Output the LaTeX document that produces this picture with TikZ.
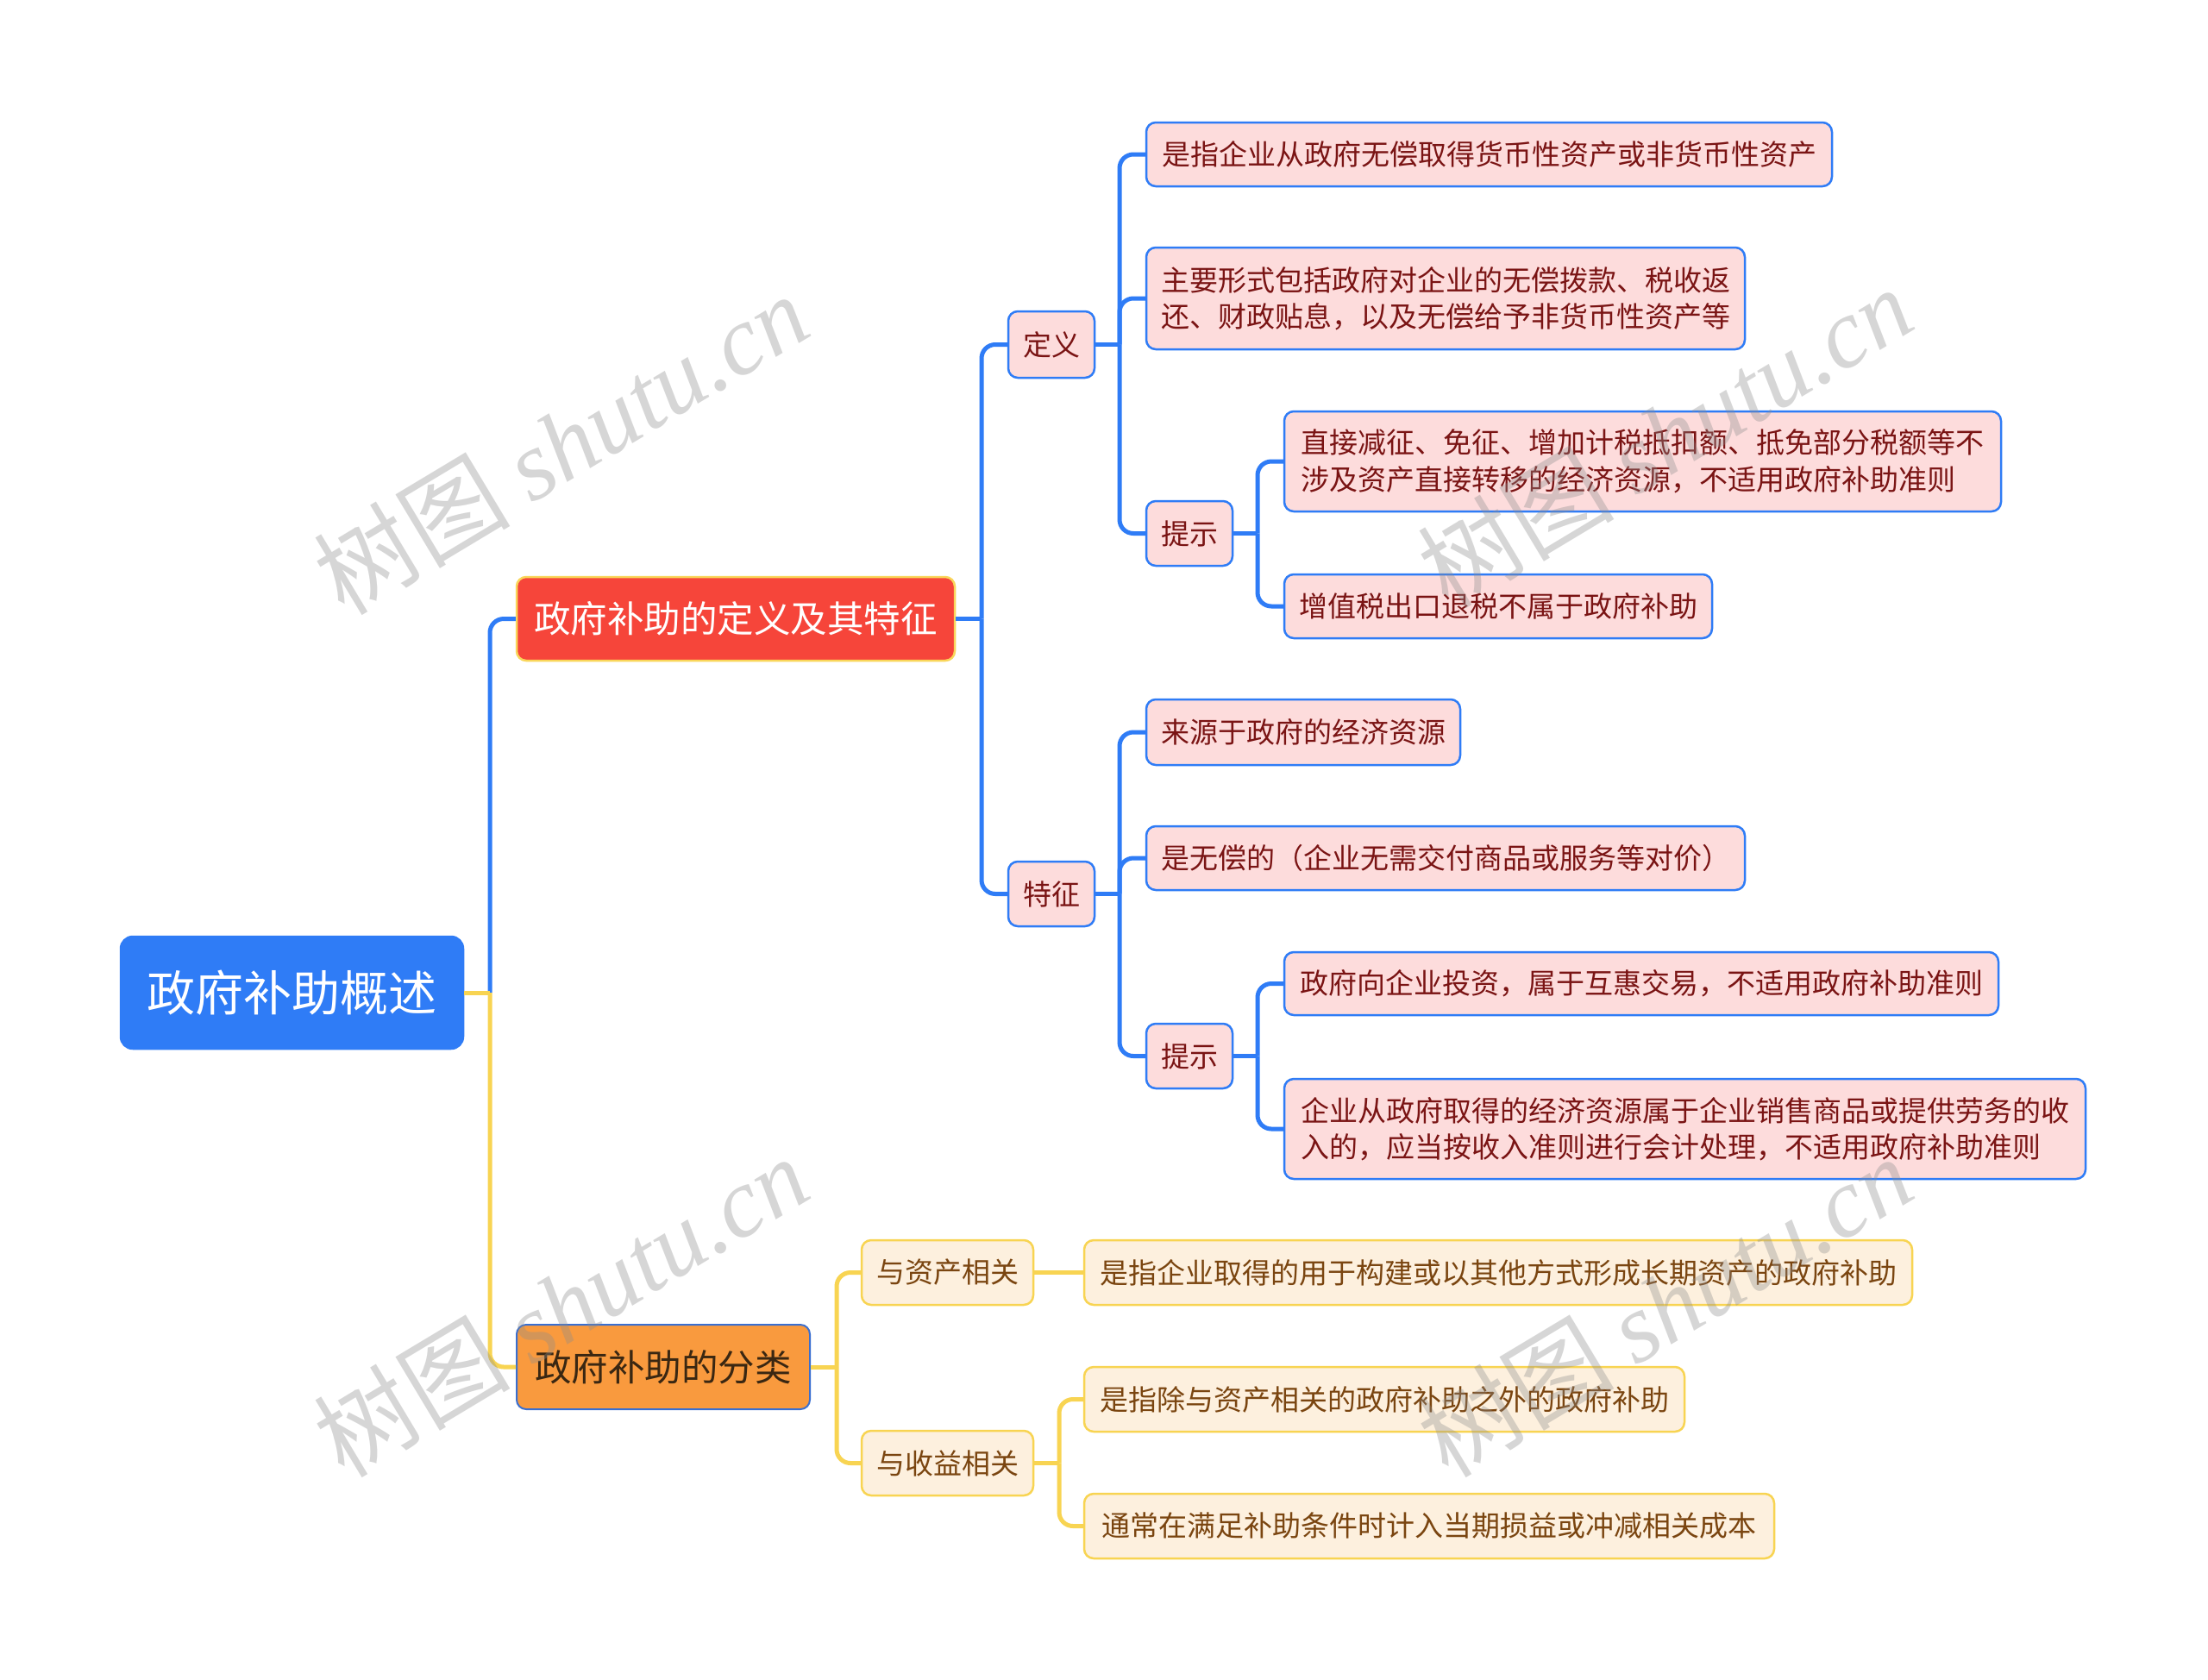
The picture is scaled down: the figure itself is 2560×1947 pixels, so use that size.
\documentclass[tikz,border=0pt]{standalone}
\usepackage{fontspec}
\setmainfont{Noto Sans CJK SC}
\newfontfamily\wmlat{Liberation Serif}
\definecolor{cblue}{HTML}{2F7CF6}
\definecolor{cpink}{HTML}{FDDCDC}
\definecolor{cmaroon}{HTML}{7A1414}
\definecolor{cred}{HTML}{F6453A}
\definecolor{credb}{HTML}{F9D65A}
\definecolor{corange}{HTML}{F99A3E}
\definecolor{corangeb}{HTML}{3A6FD0}
\definecolor{cdark}{HTML}{3A2712}
\definecolor{cyel}{HTML}{F8D452}
\definecolor{ccream}{HTML}{FDF0DE}
\definecolor{cbrown}{HTML}{7A4510}
\begin{document}
\begin{tikzpicture}[x=1pt,y=-1pt,
  base/.style={rounded corners=11pt, line width=2.5pt, inner xsep=12pt, inner ysep=0pt, align=left, anchor=center},
  leafb/.style={base, draw=cblue, fill=cpink, text=cmaroon, font=\fontsize{33}{42.5}\selectfont},
  leafy/.style={base, draw=cyel, fill=ccream, text=cbrown, font=\fontsize{33}{42.5}\selectfont},
  sz/.style 2 args={minimum width=#1, minimum height=#2},
  bl/.style={draw=cblue, line width=5pt},
  yl/.style={draw=cyel, line width=5pt},
  rc/.style={rounded corners=16pt},
  wm/.style={text=black!45, opacity=0.35, rotate=31, font=\fontsize{114}{120}\selectfont, anchor=center}
]
\useasboundingbox (0,0) rectangle (2560,1947);
\fill[white] (0,0) rectangle (2560,1947);

% root
\node[base, draw=cblue, fill=cblue, text=white, sz={397}{130}, rounded corners=14pt, font=\fontsize{56}{60}\selectfont] (root) at (338.5,1151) {政府补助概述};

% level 1
\node[base, draw=credb, fill=cred, text=white, sz={508}{97}, line width=2.5pt, font=\fontsize{42.5}{46}\selectfont] (A) at (853,717.5) {政府补助的定义及其特征};
\node[base, draw=corangeb, fill=corange, text=cdark, sz={340}{98}, line width=2pt, font=\fontsize{42.5}{46}\selectfont] (B) at (769,1585) {政府补助的分类};

% level 2 (blue)
\node[leafb, sz={100}{77}] (def) at (1219,399.5) {定义};
\node[leafb, sz={100}{75}] (feat) at (1219,1036.5) {特征};

\node[leafb, sz={795}{74}] (d1) at (1726.5,179) {是指企业从政府无偿取得货币性资产或非货币性资产};
\node[leafb, sz={694}{118}] (d2) at (1676,346) {主要形式包括政府对企业的无偿拨款、税收返\\还、财政贴息，以及无偿给予非货币性资产等};
\node[leafb, sz={100}{75}] (tip1) at (1379,618.5) {提示};
\node[leafb, sz={831}{116}] (t1a) at (1904.5,535) {直接减征、免征、增加计税抵扣额、抵免部分税额等不\\涉及资产直接转移的经济资源，不适用政府补助准则};
\node[leafb, sz={496}{74}] (t1b) at (1737,703) {增值税出口退税不属于政府补助};

\node[leafb, sz={364}{76}] (f1) at (1511,849) {来源于政府的经济资源};
\node[leafb, sz={694}{74}] (f2) at (1676,995) {是无偿的（企业无需交付商品或服务等对价）};
\node[leafb, sz={100}{75}] (tip2) at (1379,1224.5) {提示};
\node[leafb, sz={828}{73}] (t2a) at (1903,1140.5) {政府向企业投资，属于互惠交易，不适用政府补助准则};
\node[leafb, sz={929}{116}] (t2b) at (1953.5,1309) {企业从政府取得的经济资源属于企业销售商品或提供劳务的收\\入的，应当按收入准则进行会计处理，不适用政府补助准则};

% level 2 (yellow)
\node[leafy, sz={199}{75}] (c1) at (1098.5,1475.5) {与资产相关};
\node[leafy, sz={960}{75}] (c1a) at (1737,1475.5) {是指企业取得的用于构建或以其他方式形成长期资产的政府补助};
\node[leafy, sz={199}{75}] (c2) at (1098.5,1696.5) {与收益相关};
\node[leafy, sz={696}{75}] (c2a) at (1605,1622.5) {是指除与资产相关的政府补助之外的政府补助};
\node[leafy, sz={800}{75}] (c2b) at (1657,1769.5) {通常在满足补助条件时计入当期损益或冲减相关成本};

% spine points
\coordinate (sp0) at (568,1151);
\coordinate (spA) at (1138,717.5);
\coordinate (spD) at (1298,399.5);
\coordinate (spT1) at (1458,618.5);
\coordinate (spF) at (1298,1036.5);
\coordinate (spT2) at (1458,1224.5);
\coordinate (spB) at (970,1585);
\coordinate (spC2) at (1228,1696.5);

% connectors
\draw[bl, rc] (sp0) |- (A.west);
\draw[yl, rc] (sp0) |- (B.west);
\draw[yl] (root.east) -- (sp0);

\draw[bl] (A.east) -- (spA);
\draw[bl, rc] (spA) |- (def.west);
\draw[bl, rc] (spA) |- (feat.west);

\draw[bl] (def.east) -- (spD);
\draw[bl, rc] (spD) |- (d1.west);
\draw[bl, rc] (spD) |- (d2.west);
\draw[bl, rc] (spD) |- (tip1.west);

\draw[bl] (tip1.east) -- (spT1);
\draw[bl, rc] (spT1) |- (t1a.west);
\draw[bl, rc] (spT1) |- (t1b.west);

\draw[bl] (feat.east) -- (spF);
\draw[bl, rc] (spF) |- (f1.west);
\draw[bl, rc] (spF) |- (f2.west);
\draw[bl, rc] (spF) |- (tip2.west);

\draw[bl] (tip2.east) -- (spT2);
\draw[bl, rc] (spT2) |- (t2a.west);
\draw[bl, rc] (spT2) |- (t2b.west);

\draw[yl] (B.east) -- (spB);
\draw[yl, rc] (spB) |- (c1.west);
\draw[yl, rc] (spB) |- (c2.west);

\draw[yl] (c1.east) -- (c1a.west);

\draw[yl] (c2.east) -- (spC2);
\draw[yl, rc] (spC2) |- (c2a.west);
\draw[yl, rc] (spC2) |- (c2b.west);

% watermarks
\node[wm] (w1) at (650,514) {树图 {\wmlat\itshape shutu.cn}};
\node[wm] (w2) at (1930,506) {树图 {\wmlat\itshape shutu.cn}};
\node[wm] (w3) at (650,1514) {树图 {\wmlat\itshape shutu.cn}};
\node[wm] (w4) at (1930,1514) {树图 {\wmlat\itshape shutu.cn}};
\end{tikzpicture}
\end{document}
